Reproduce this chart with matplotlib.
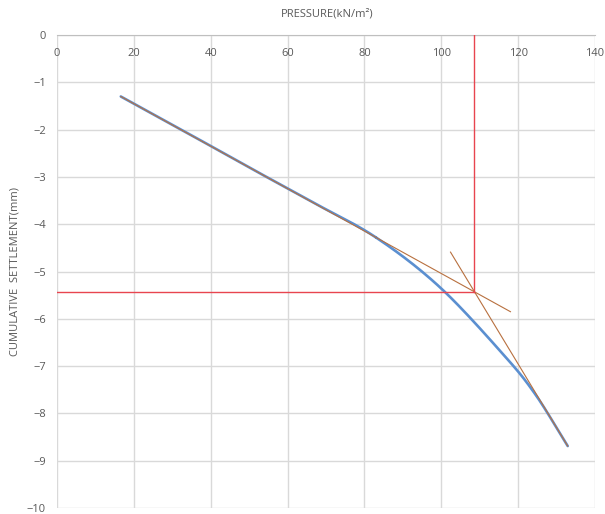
import numpy as np
import matplotlib
matplotlib.use("Agg")
import matplotlib.pyplot as plt

# Data
pressure = [16.6, 33.2, 49.8, 66.4, 83.0, 99.6, 116.2, 124.5, 132.9]
settlement = [-1.30, -2.04, -2.79, -3.53, -4.28, -5.33, -6.76, -7.60, -8.69]
tangent1_x = [16.6, 118.0]
tangent1_y = [-1.30, -5.85]
tangent2_x = [102.4, 132.9]
tangent2_y = [-4.59, -8.69]
yield_p = 108.6
yield_s = -5.43
xticks = [0, 20, 40, 60, 80, 100, 120, 140]
yticks = [0, -1, -2, -3, -4, -5, -6, -7, -8, -9, -10]


def catmull(xs, ys, n=30):
    xs = np.asarray(xs, float); ys = np.asarray(ys, float)
    P = np.column_stack([xs, ys])
    P = np.vstack([2 * P[0] - P[1], P, 2 * P[-1] - P[-2]])
    out = []
    for i in range(1, len(P) - 2):
        p0, p1, p2, p3 = P[i - 1], P[i], P[i + 1], P[i + 2]
        t = np.linspace(0, 1, n)[:, None]
        pt = 0.5 * ((2 * p1) + (-p0 + p2) * t + (2 * p0 - 5 * p1 + 4 * p2 - p3) * t ** 2
                    + (-p0 + 3 * p1 - 3 * p2 + p3) * t ** 3)
        out.append(pt)
    out = np.vstack(out)
    return out[:, 0], out[:, 1]


plt.rcParams['font.family'] = ['Open Sans', 'DejaVu Sans']
txtc = '#595959'
fig = plt.figure(figsize=(6.05, 5.14), dpi=100)
top_px, bot_px, left_px, right_px = 35, 508, 57, 595
ax = fig.add_axes([left_px / 605, 1 - bot_px / 514, (right_px - left_px) / 605,
                   (bot_px - top_px) / 514])
ax.set_xlim(0, 140)
ax.set_ylim(-10, 0)
ax.set_xticks(xticks)
ax.set_yticks(yticks)
ax.grid(True, color='#d9d9d9', linewidth=1.0)
ax.set_axisbelow(True)
for s in ['right', 'bottom', 'left']:
    ax.spines[s].set_visible(False)
ax.spines['top'].set_color('#bfbfbf')
ax.tick_params(axis='both', length=0)
ax.tick_params(axis='x', labelbottom=False)
ax.tick_params(axis='y', labelsize=8, labelcolor=txtc, pad=8)
unit_px = (bot_px - top_px) / 10.0
for xt in xticks:
    ax.text(xt, -18 / unit_px, str(xt), ha='center', va='center', fontsize=8, color=txtc)

sx, sy = catmull(pressure, settlement)
ax.plot(sx, sy, color='#5B8FD0', linewidth=1.9, solid_capstyle='round', zorder=3)
ax.plot(tangent1_x, tangent1_y, color='#B8703F', linewidth=0.8, zorder=4)
ax.plot(tangent2_x, tangent2_y, color='#B8703F', linewidth=0.8, zorder=4)
ax.plot([yield_p, yield_p], [0, yield_s], color='#E8454F', linewidth=1.0, zorder=5)
ax.plot([0, yield_p], [yield_s, yield_s], color='#E8454F', linewidth=1.0, zorder=5)

fig.text((57 + 270) / 605, 1 - 14 / 514, 'PRESSURE(kN/m²)', ha='center', va='center',
         fontsize=8, color=txtc)
fig.text(15 / 605, 1 - 272 / 514, 'CUMULATIVE  SETTLEMENT(mm)', ha='center', va='center',
         rotation=90, fontsize=8, color=txtc)

fig.savefig('out.png', dpi=100)
